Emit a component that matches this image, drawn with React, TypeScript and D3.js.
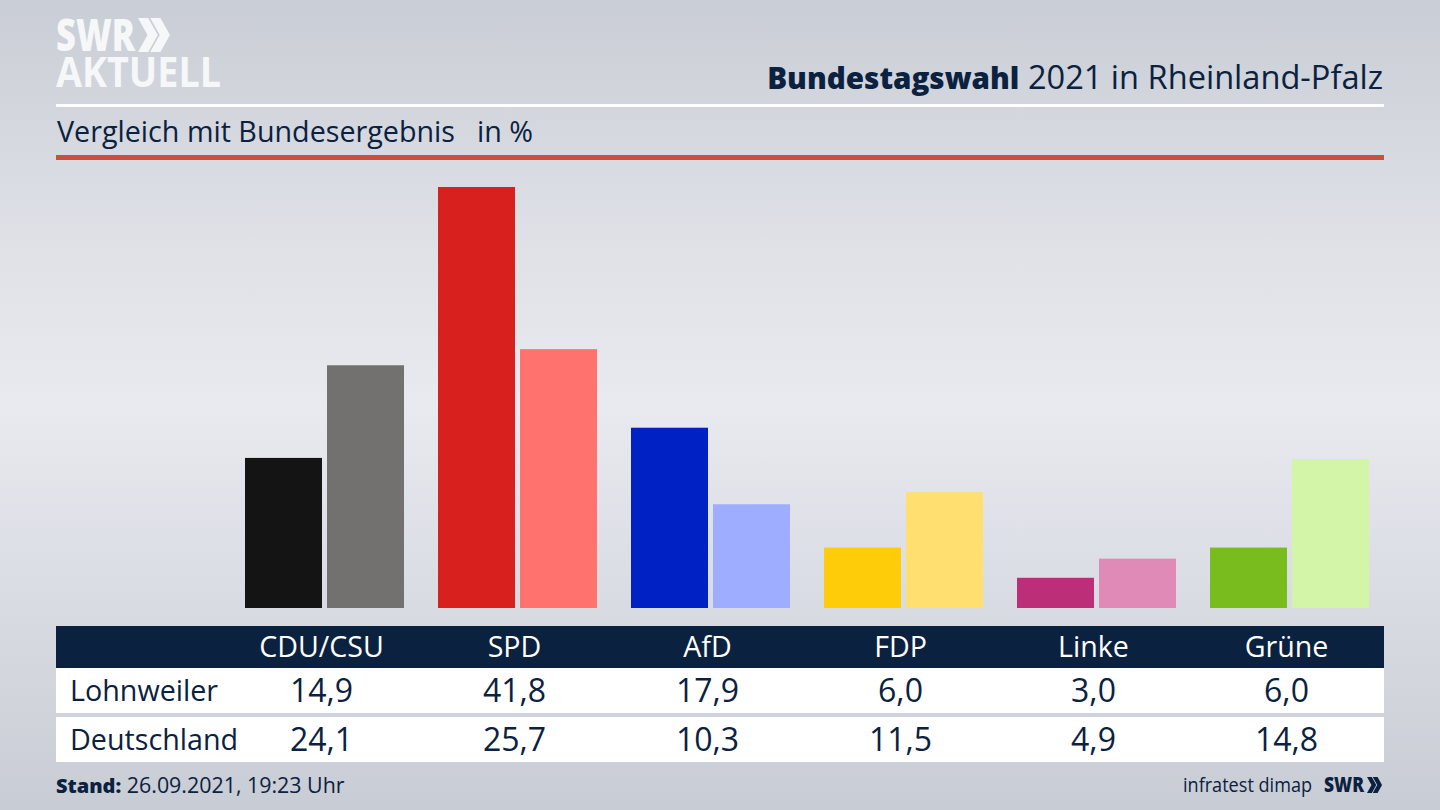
import React from 'react';
import * as d3 from 'd3';

const parties = ['CDU/CSU', 'SPD', 'AfD', 'FDP', 'Linke', 'Grüne'];
const regions = ['Lohnweiler', 'Deutschland'];
const lohnweiler = [14.9, 41.8, 17.9, 6.0, 3.0, 6.0];
const deutschland = [24.1, 25.7, 10.3, 11.5, 4.9, 14.8];
const darkColors = ['#141414', '#d8201e', '#0022c4', '#ffcc0a', '#bc2f78', '#79bc1d'];
const lightColors = ['#72716f', '#ff726e', '#9eadff', '#ffdf70', '#e08ab8', '#d3f5a8'];

const width = 1440;
const height = 810;
const navy = '#0b2140';
const font = '"Open Sans", "Noto Sans", sans-serif';

const x = d3.scaleBand<string>().domain(parties).range([225, 1383]);
const inner = d3.scaleBand<string>().domain(['a', 'b']).range([0, 159]).paddingInner(0.061);
const y = d3.scaleLinear().domain([0, 41.8]).range([608, 187]);
const fmt = (v: number) => v.toFixed(1).replace('.', ',');

// the two arrows of the SWR logo
const chevrons = (left: number, top: number, h: number) => {
  const w = h * 0.28;
  const t = h * 0.3;
  const one = (o: number) => `M${o},${top} h${t} l${w},${h / 2} l${-w},${h / 2} h${-t} l${w},${-h / 2} Z`;
  return one(left) + one(left + h * 0.36);
};

export default function App() {
  const rows = [lohnweiler, deutschland];
  const rowTop = [668, 717];
  const rowH = [45, 45];
  return (
    <svg width={width} height={height} style={{ position: 'fixed', left: 0, top: 0 }} fontFamily={font}>
      <defs>
        <linearGradient id="bg" x1="0" y1="0" x2="0" y2="1">
          <stop offset="0" stopColor="#c9cdd5" />
          <stop offset="0.3" stopColor="#dfe1e7" />
          <stop offset="0.5" stopColor="#e9eaf0" />
          <stop offset="1" stopColor="#c8ccd4" />
        </linearGradient>
      </defs>
      <rect width={width} height={height} fill="url(#bg)" />

      {/* logo */}
      <text x={56} y={51} fontSize={44} fontWeight={800} fill="#f6f7f9" textLength={79} lengthAdjust="spacingAndGlyphs">SWR</text>
      <path d={chevrons(138, 18, 34)} fill="#f6f7f9" />
      <text x={56} y={87} fontSize={42} fontWeight={700} fill="#f6f7f9" textLength={165} lengthAdjust="spacingAndGlyphs">AKTUELL</text>

      {/* header */}
      <text x={1383} y={89} textAnchor="end" fill={navy} fontSize={32.6}>
        <tspan fontWeight={800} fontSize={29.6}>Bundestagswahl</tspan> 2021 in Rheinland-Pfalz
      </text>
      <rect x={56} y={104} width={1328} height={3} fill="#ffffff" />
      <text x={57} y={142} fontSize={28.7} fill={navy}>Vergleich mit Bundesergebnis</text>
      <text x={477} y={142} fontSize={28.7} fill={navy}>in %</text>
      <rect x={56} y={155} width={1328} height={5} fill="#c9503e" />

      {/* bars */}
      {parties.map((p, i) => (
        <g key={p} transform={`translate(${x(p)! + (x.bandwidth() - 159) / 2 + 3},0)`}>
          <rect x={inner('a')} y={y(lohnweiler[i])} width={inner.bandwidth()} height={y(0) - y(lohnweiler[i])} fill={darkColors[i]} />
          <rect x={inner('b')} y={y(deutschland[i])} width={inner.bandwidth()} height={y(0) - y(deutschland[i])} fill={lightColors[i]} />
        </g>
      ))}

      {/* table */}
      <rect x={56} y={626} width={1328} height={42} fill={navy} />
      {parties.map(p => (
        <text key={p} x={x(p)! + x.bandwidth() / 2} y={657} fontSize={28.6} textAnchor="middle" fill="#ffffff">{p}</text>
      ))}
      {regions.map((r, ri) => (
        <g key={r}>
          <rect x={56} y={rowTop[ri]} width={1328} height={rowH[ri]} fill="#ffffff" />
          <text x={70} y={rowTop[ri] + 33} fontSize={28.7} fill={navy}>{r}</text>
          {parties.map((p, i) => (
            <text key={p} x={x(p)! + x.bandwidth() / 2} y={rowTop[ri] + 34} fontSize={32} textAnchor="middle" fill={navy}>{fmt(rows[ri][i])}</text>
          ))}
        </g>
      ))}

      {/* footer */}
      <text x={56} y={793} fontSize={21.4} fill={navy}>
        <tspan fontWeight={800} fontSize={20}>Stand:</tspan> 26.09.2021, 19:23 Uhr
      </text>
      <text x={1183} y={792} fontSize={19.5} fill={navy} textLength={129} lengthAdjust="spacingAndGlyphs">infratest dimap</text>
      <text x={1324} y={792} fontSize={21} fontWeight={800} fill={navy} textLength={40} lengthAdjust="spacingAndGlyphs">SWR</text>
      <path d={chevrons(1367, 777, 16)} fill={navy} />
    </svg>
  );
}
